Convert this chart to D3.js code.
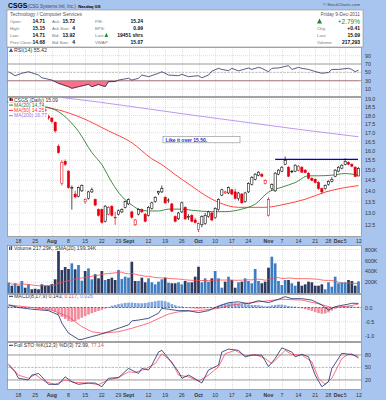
<!DOCTYPE html>
<html><head><meta charset="utf-8">
<script src="https://cdn.jsdelivr.net/npm/d3@7/dist/d3.min.js"></script>
<style>
html,body{margin:0;padding:0;background:#a7c5ee;}
svg{display:block}
text{font-family:"Liberation Sans",Arial,sans-serif;}
</style></head><body>
<svg id="chart" width="386" height="400"></svg>
<script>
// ---------------- DATA ----------------
const tradingStart = "2011-07-13", tradingEnd = "2011-12-09";
const holidays = ["2011-09-05", "2011-11-24"];

const opens = [18.80,18.85,18.65,18.75,18.60,18.85,18.80,18.95,18.75,18.60,18.50,18.35,17.95,17.85,17.60,16.25,14.35,15.45,14.95,14.10,13.85,13.75,14.00,13.50,13.65,13.95,13.60,13.15,13.15,12.65,12.95,13.30,12.80,12.95,13.05,13.25,13.40,13.05,12.50,12.95,13.15,12.95,12.90,13.20,13.50,13.90,13.95,13.70,13.55,13.40,12.85,12.75,13.05,13.25,12.80,12.90,12.70,12.30,12.50,12.55,12.85,13.00,12.80,13.15,13.80,13.90,13.90,14.05,13.95,13.65,13.85,13.50,13.95,14.30,14.55,14.75,14.80,14.35,12.90,14.10,14.00,14.80,14.95,15.30,15.15,14.92,14.95,15.00,15.15,15.00,14.85,14.60,14.55,14.40,14.10,14.10,14.30,14.45,14.70,14.95,15.10,15.30,15.40,15.30,15.15,14.71];
const highs = [18.95,18.95,18.80,18.85,18.90,18.95,19.00,19.00,18.85,18.70,18.60,18.50,18.05,17.90,17.65,16.35,15.50,15.55,15.00,14.25,14.00,14.20,14.30,13.65,14.00,14.15,13.65,13.20,13.20,13.35,13.30,13.35,13.05,13.15,13.20,13.55,13.65,13.10,12.75,13.20,13.20,13.00,13.30,13.50,13.75,14.00,14.25,13.75,13.65,13.45,12.90,13.05,13.50,13.30,12.95,12.95,12.80,12.60,12.90,13.00,13.10,13.05,13.25,13.65,14.10,14.00,14.20,14.10,14.10,13.95,13.90,13.95,14.40,14.70,14.85,14.95,14.85,14.55,13.70,14.35,14.90,15.05,15.20,15.70,15.20,15.00,15.30,15.25,15.20,15.05,14.90,14.65,14.60,14.45,14.15,14.30,14.50,14.65,15.05,15.20,15.30,15.60,15.45,15.35,15.20,15.15];
const lows = [18.70,18.60,18.55,18.55,18.55,18.70,18.70,18.75,18.55,18.45,18.30,18.20,17.75,17.55,17.00,15.85,14.25,15.20,14.10,13.15,13.65,13.70,13.95,13.40,13.60,13.90,13.30,12.85,12.55,12.60,12.90,12.85,12.50,12.90,13.00,13.20,13.35,12.75,12.45,12.90,13.00,12.60,12.85,13.15,13.45,13.80,13.90,13.40,13.45,13.05,12.60,12.70,13.00,12.70,12.70,12.60,12.55,12.20,12.40,12.50,12.80,12.65,12.75,13.10,13.75,13.85,13.85,13.80,13.60,13.55,13.40,13.45,13.90,14.25,14.50,14.70,14.65,14.30,12.85,14.00,13.95,14.75,14.90,15.25,14.65,14.85,14.90,14.95,14.85,14.85,14.55,14.45,14.35,14.05,13.85,14.05,14.25,14.40,14.65,14.90,15.05,15.25,15.25,15.15,14.65,14.71];
const closes = [18.85,18.65,18.75,18.60,18.85,18.80,18.95,18.80,18.60,18.50,18.35,18.30,17.85,17.65,17.10,15.90,15.40,15.30,14.15,14.15,13.72,14.15,14.25,13.60,13.95,14.05,13.35,12.90,12.60,13.30,13.25,12.90,12.82,13.10,13.15,13.50,13.60,12.82,12.70,13.15,13.05,12.65,13.25,13.45,13.70,13.97,14.10,13.45,13.58,13.08,12.65,13.00,13.45,12.75,12.85,12.65,12.60,12.55,12.85,12.90,13.05,12.70,13.20,13.60,14.05,13.95,14.15,13.85,13.65,13.90,13.45,13.90,14.35,14.65,14.80,14.90,14.70,14.50,13.60,14.30,14.85,15.00,15.15,15.50,14.70,14.95,15.25,15.20,14.90,14.88,14.60,14.50,14.40,14.10,13.95,14.25,14.45,14.55,15.00,15.15,15.25,15.45,15.30,15.20,14.68,15.09];
const volumesK = [193,138,182,138,224,101,163,72,83,72,163,138,138,167,255,774,425,480,444,548,438,517,230,407,456,255,347,273,407,242,261,285,242,425,261,303,285,578,224,224,285,200,273,200,163,212,255,285,193,182,182,200,163,224,200,200,303,486,200,273,212,273,407,273,101,212,303,242,101,200,212,273,224,182,444,224,182,212,468,670,548,224,150,242,242,182,138,212,138,163,212,200,138,138,163,72,200,120,303,182,200,200,242,224,138,217];

// moving averages (session number, value)
const ma20Day = [10,15,21,25,28,31,34,36,39,42,45,48,52,55,61,65,70,74,78,82,86,90,93,97,101,105];
const ma20Val = [18.58,18.23,17.07,15.91,15.28,14.40,13.74,13.47,13.17,13.09,13.09,13.17,13.17,13.12,13.06,13.06,13.17,13.39,13.94,14.17,14.39,14.72,14.72,14.75,14.83,14.74];
const ma50Day = [10,15,22,30,37,43,46,50,55,59,63,69,77,83,89,95,105];
const ma50Val = [18.54,18.34,17.86,17.10,16.44,15.58,15.28,14.78,14.22,13.79,13.47,13.25,13.25,13.39,13.61,13.94,14.25];
const ma200Day = [16,27,42,55,72,87,105];
const ma200Val = [19.12,18.83,18.40,18.03,17.58,17.19,16.77];

const rsiDay = [0,2,4,6,9,10,13,15,18,19,21,24,25,27,29,30,32,33,36,37,39,40,42,45,46,48,51,52,54,57,58,60,61,63,64,66,67,69,72,73,75,76,78,79,81,84,85,87,88,90,92,94,96,97,99,102,103,104,105];
const rsiVal = [51.5,42,47.7,51.5,43.6,37,31.6,23.7,15.6,11.7,15.6,21.3,15.6,21,15.6,27.6,28,31.6,35.7,31.6,35.7,43.6,39.6,47.7,51.5,43.6,42,45.3,39.6,42,37,43.6,53,59.6,57,54,59.6,53.5,60.5,57,62,59.6,51.5,59.6,60.5,66,57,62,59.6,57,52,47.7,49.6,57,57,59.6,57,51.5,55.42];

const macdDay = [0,3,7,12,15,16,18,21,22,25,27,30,33,36,37,39,42,45,46,48,51,54,57,60,63,66,69,72,75,78,81,83,85,88,91,94,96,98,102,103,105];
const macdVal = [0.09,0.0,-0.06,-0.11,-0.26,-0.55,-0.9,-1.12,-1.12,-1.02,-0.96,-0.85,-0.73,-0.61,-0.47,-0.44,-0.38,-0.2,-0.03,-0.06,-0.11,-0.11,-0.18,-0.11,0.05,0.17,0.2,0.13,0.24,0.17,0.29,0.38,0.31,0.31,0.26,0.09,-0.09,0.03,0.12,0.15,0.143];
const signalDay = [0,7,13,18,22,25,28,33,37,42,48,51,57,63,67,75,82,88,93,97,102,105];
const signalVal = [0.09,0.0,-0.09,-0.33,-0.67,-0.85,-0.9,-0.85,-0.73,-0.55,-0.23,-0.15,-0.11,-0.03,0.09,0.2,0.29,0.26,0.13,0.0,0.05,0.117];
const macdHist = [0.04,0.03,0.02,0.01,0.0,-0.01,-0.01,-0.02,-0.02,-0.03,-0.04,-0.05,-0.07,
  -0.10,-0.15,-0.25,-0.33,-0.40,-0.47,-0.50,-0.48,-0.42,-0.36,-0.30,-0.25,-0.20,-0.16,-0.12,-0.08,-0.04,
  0.02,0.06,0.09,0.12,0.14,0.16,0.17,0.17,0.16,0.15,0.15,0.16,0.18,0.20,0.22,0.24,0.24,0.22,0.18,0.12,0.08,0.04,
  0.04,0.01,-0.02,-0.03,-0.04,-0.05,-0.04,-0.03,-0.02,-0.01,0.02,0.06,0.10,0.13,0.15,0.16,0.15,0.14,0.12,0.12,
  0.10,0.09,0.09,0.08,0.06,0.04,0.05,0.07,0.09,0.10,0.10,0.08,0.05,0.04,0.03,
  0.0,-0.03,-0.06,-0.09,-0.12,-0.16,-0.20,-0.22,-0.21,-0.17,-0.11,-0.05,
  0.0,0.03,0.05,0.05,0.04,0.02,0.026];

const stoKDay = [0,2,3,6,7,9,10,12,15,17,19,21,24,26,28,30,33,36,37,39,40,42,43,45,46,48,51,52,54,55,58,60,63,64,66,69,71,73,76,78,80,82,85,86,88,90,92,94,96,97,100,102,103,105];
const stoKVal = [55.5,39.6,24,20,31.6,35.6,27.5,9.5,9.5,27.5,15.7,9.5,12.6,12.6,3.8,24,25.7,47.6,43.8,35.6,47.6,43.8,55.5,87,91,71.6,39.6,24,31.6,27.5,12.6,43.8,55.5,87,94,91,75.6,79.5,79.5,52,71.6,97,87,75.6,81.6,75.6,31.6,3.8,15.7,47.6,84,81.6,82,72.99];
const stoDDay = [0,3,6,8,11,14,17,20,24,27,30,33,36,38,41,44,46,49,51,54,57,60,63,65,68,71,74,77,79,83,85,88,91,93,95,97,100,102,105];
const stoDVal = [59,31.6,24,33,15.7,9.5,20,14,12.6,8.8,20,25.7,39.6,38,46,59,83,63.6,31.6,27.5,17.3,31.6,51.5,83,91,78,81,71.6,59,91,81,79.5,63.6,24,9.5,24,71.6,82,77.14];

const tickDates = ["2011-07-18","2011-07-25","2011-08-01","2011-08-08","2011-08-15","2011-08-22","2011-08-29","2011-09-01","2011-09-12","2011-09-19","2011-09-26","2011-10-03","2011-10-10","2011-10-17","2011-10-24","2011-11-01","2011-11-07","2011-11-14","2011-11-21","2011-11-28","2011-12-01","2011-12-05","2011-12-12"];
const tickLabels = ["18","25","Aug","8","15","22","29","Sept","12","19","26","Oct","10","17","24","Nov","7","14","21","28","Dec","5","12"];
const priceTicks = [12.5,13.0,13.5,14.0,14.5,15.0,15.5,16.0,16.5,17.0,17.5,18.0,18.5,19.0];
const rsiTicks = [10,30,50,70,90];
const volTicks = [200,400,600,800];
const macdTicks = [-1.0,-0.5,0.0];
const stoTicks = [20,50,80];
const resistanceLevel = 15.55, resistanceFrom = "2011-11-03";

// ---------------- SETUP ----------------
const fmt = d3.timeFormat("%Y-%m-%d"), parse = d3.timeParse("%Y-%m-%d");
const dates = d3.timeDay.range(parse(tradingStart), d3.timeDay.offset(parse(tradingEnd), 1))
  .filter(d => d.getDay() % 6 !== 0 && !holidays.includes(fmt(d))).map(fmt);
const n = dates.length;

const svg = d3.select("#chart");
const BLUE = "#a7c5ee", GRID = "#c9c9c9", BORDER = "#8c8c8c";
const X0 = 7, X1 = 362;
const x = d3.scaleLinear().domain([0, n - 1]).range([8.5, 358.5]);
const P = {
  rsi: {y0: 47, y1: 97}, main: {y0: 97, y1: 237}, vol: {y0: 245, y1: 294},
  macd: {y0: 294, y1: 342}, sto: {y0: 342, y1: 390}
};
const yRsi = d3.scaleLinear().domain([30, 70]).range([80.7, 64]);
const yP = d3.scaleLog().domain([12.0, 19.15]).range([237, 97]);
const yVol = d3.scaleLinear().domain([0, 800]).range([293.2, 249.6]);
const yMacd = d3.scaleLinear().domain([-1, 0]).range([336, 307.5]);
const ySto = d3.scaleLinear().domain([0, 100]).range([388.3, 346.6]);

svg.append("rect").attr("width", 386).attr("height", 400).attr("fill", BLUE);
const defs = svg.append("defs");
Object.entries(P).forEach(([k, p]) => {
  defs.append("clipPath").attr("id", "clip-" + k).append("rect")
    .attr("x", X0).attr("y", p.y0).attr("width", X1 - X0).attr("height", p.y1 - p.y0);
});

const tickIdx = tickDates.map(d => { const i = dates.indexOf(d); return i >= 0 ? i : n; });

function panel(key, yScale, ticks, fmtTick, refLines) {
  const p = P[key];
  const g = svg.append("g");
  g.append("rect").attr("x", X0).attr("y", p.y0).attr("width", X1 - X0).attr("height", p.y1 - p.y0)
    .attr("fill", "#fff");
  const cg = g.append("g").attr("clip-path", "url(#clip-" + key + ")");
  tickIdx.forEach(i => {
    const xx = Math.round(x(i)) + 0.5;
    if (xx > X0 && xx < X1) cg.append("line").attr("x1", xx).attr("x2", xx).attr("y1", p.y0).attr("y2", p.y1)
      .attr("stroke", GRID).attr("stroke-width", 0.6).attr("stroke-dasharray", "1,1");
  });
  ticks.forEach(t => {
    const yy = yScale(t);
    if (yy > p.y0 && yy < p.y1) cg.append("line").attr("x1", X0).attr("x2", X1).attr("y1", yy).attr("y2", yy)
      .attr("stroke", GRID).attr("stroke-width", 0.6).attr("stroke-dasharray", "1,1");
    g.append("text").attr("x", 365).attr("y", yy + 2).attr("font-size", 5.3).attr("fill", "#333").text(fmtTick(t));
  });
  (refLines || []).forEach(r => {
    cg.append("line").attr("x1", X0).attr("x2", X1).attr("y1", yScale(r.v)).attr("y2", yScale(r.v))
      .attr("stroke", r.c || "#8a8a8a").attr("stroke-width", r.w || 0.8).attr("stroke-dasharray", r.dash || null);
  });
  return {g, cg};
}
function frame(key) {
  const p = P[key];
  svg.append("rect").attr("x", X0 + 0.5).attr("y", p.y0 + 0.5).attr("width", X1 - X0 - 1).attr("height", p.y1 - p.y0 - 1)
    .attr("fill", "none").attr("stroke", BORDER).attr("stroke-width", 0.8);
}
function sparseLine(g, days, vals, yScale, color, w, curve) {
  g.append("path").datum(days.map((d, i) => [x(d), yScale(vals[i])]))
    .attr("d", d3.line().curve(curve || d3.curveLinear)).attr("fill", "none")
    .attr("stroke", color).attr("stroke-width", w || 0.8);
}
function label(g, xx, yy, parts, size) {
  const t = g.append("text").attr("x", xx).attr("y", yy).attr("font-size", size || 5.3);
  parts.forEach(p => t.append("tspan").attr("fill", p.c || "#333").attr("font-weight", p.b ? "bold" : null).text(p.t));
  return t;
}
function dateAxis(yy) {
  tickIdx.forEach((i, k) => {
    let xx = Math.min(x(i), 359);
    const month = isNaN(+tickLabels[k]);
    svg.append("text").attr("x", xx).attr("y", yy).attr("text-anchor", "middle").attr("font-size", 5.2)
      .attr("font-weight", month ? "bold" : null).attr("fill", "#333").text(tickLabels[k]);
  });
}

// ---------------- HEADER ----------------
svg.append("rect").attr("x", X0).attr("y", 10).attr("width", X1 - X0 + 1).attr("height", 37).attr("fill", "#fff")
  .attr("stroke", BORDER).attr("stroke-width", 0.6);
label(svg, 8, 8, [{t: "CSGS", c: "#000", b: true}], 6.8);
const sub = label(svg, 27.5, 7.8, [{t: "(CSG Systems Intl, Inc.)", c: "#445"}], 4.5);
const subEnd = 27.5 + sub.node().getComputedTextLength();
label(svg, subEnd + 2.5, 7.8, [{t: "Nasdaq GS", c: "#000", b: true}], 4.2);
svg.append("text").attr("x", 360).attr("y", 6).attr("text-anchor", "end").attr("font-size", 4.3).attr("fill", "#445").text("© StockCharts.com");
label(svg, 10, 16, [{t: "Technology / Computer Services", c: "#555"}], 5);
const hdrRows = [
  [["Open:", "14.71"], ["Ask:", "15.72"], ["P/E:", "15.24"]],
  [["High:", "15.15"], ["Ask Size:", "4"], ["EPS:", "0.99"]],
  [["Low:", "14.71"], ["Bid:", "13.92"], ["Last:", "19451 shrs"]],
  [["Prev Close:", "14.68"], ["Bid Size:", "4"], ["VWAP:", "15.07"]]
];
const colL = [10, 52, 95], colR = [45, 75, 143];
hdrRows.forEach((row, r) => {
  const yy = 23 + r * 7;
  row.forEach((c, j) => {
    svg.append("text").attr("x", colL[j]).attr("y", yy).attr("font-size", 4.3).attr("fill", "#777").text(c[0]);
    svg.append("text").attr("x", colR[j]).attr("y", yy).attr("text-anchor", "end").attr("font-size", 5)
      .attr("font-weight", "bold").attr("fill", "#111").text(c[1]);
  });
});
svg.append("path").attr("d", "M104.5,37 l1.8,-4.2 l1.8,4.2 z").attr("fill", "#1a8a2a");
svg.append("text").attr("x", 360).attr("y", 16).attr("text-anchor", "end").attr("font-size", 4.8).attr("fill", "#555").text("Friday 9-Dec-2011");
svg.append("path").attr("d", "M317,23.5 l2.5,-5 l2.5,5 z").attr("fill", "#1a8a2a");
svg.append("text").attr("x", 360).attr("y", 23.5).attr("text-anchor", "end").attr("font-size", 6.5).attr("fill", "#1a8a2a").text("+2.79%");
[["Chg:", "+0.41"], ["Last:", "15.09"], ["Volume:", "217,293"]].forEach((c, r) => {
  const yy = 30 + r * 7;
  svg.append("text").attr("x", 317).attr("y", yy).attr("font-size", 4.3).attr("fill", "#777").text(c[0]);
  svg.append("text").attr("x", 360).attr("y", yy).attr("text-anchor", "end").attr("font-size", 5)
    .attr("font-weight", "bold").attr("fill", "#111").text(c[1]);
});

// ---------------- RSI ----------------
{
  const {g, cg} = panel("rsi", yRsi, rsiTicks, d => d, [{v: 70}, {v: 30}, {v: 50, dash: "2,1.5", c: "#b0b0b0"}]);
  const pts = rsiDay.map((d, i) => [x(d), yRsi(rsiVal[i])]);
  defs.append("clipPath").attr("id", "clip-rsi-low").append("rect")
    .attr("x", X0).attr("y", yRsi(30)).attr("width", X1 - X0).attr("height", P.rsi.y1 - yRsi(30));
  cg.append("path").datum(pts).attr("clip-path", "url(#clip-rsi-low)")
    .attr("d", d3.area().x(d => d[0]).y0(yRsi(30)).y1(d => d[1])).attr("fill", "#ff6f85").attr("stroke", "#c8102e").attr("stroke-width", 0.5);
  sparseLine(cg, rsiDay, rsiVal, yRsi, "#2a3566", 0.8);
  g.append("path").attr("d", "M9,52 l2,-4 l2,4 z").attr("fill", "#2a58b0");
  label(g, 14, 52, [{t: "RSI(14) 55.42"}], 5.3);
  frame("rsi");
}

// ---------------- MAIN PRICE ----------------
{
  const {g, cg} = panel("main", yP, priceTicks, d => d.toFixed(1), []);
  sparseLine(cg, ma200Day, ma200Val, yP, "#b38cf0", 0.9, d3.curveMonotoneX);
  sparseLine(cg, ma50Day, ma50Val, yP, "#ff3030", 0.9, d3.curveMonotoneX);
  sparseLine(cg, ma20Day, ma20Val, yP, "#2f7d2f", 0.9, d3.curveMonotoneX);
  const ri = dates.indexOf(resistanceFrom);
  cg.append("line").attr("x1", x(ri)).attr("x2", 358).attr("y1", yP(resistanceLevel)).attr("y2", yP(resistanceLevel))
    .attr("stroke", "#0000d8").attr("stroke-width", 1.3);
  dates.forEach((d, i) => {
    const up = i === 0 ? true : closes[i] >= closes[i - 1];
    const col = up ? "#000" : "#e30010";
    const hollow = closes[i] > opens[i];
    const xx = x(i);
    cg.append("line").attr("x1", xx).attr("x2", xx).attr("y1", yP(highs[i])).attr("y2", yP(lows[i]))
      .attr("stroke", col).attr("stroke-width", 0.7);
    const yt = yP(Math.max(opens[i], closes[i])), yb = yP(Math.min(opens[i], closes[i]));
    cg.append("rect").attr("x", xx - 1.1).attr("width", 2.2).attr("y", yt).attr("height", Math.max(0.7, yb - yt))
      .attr("fill", hollow ? "#fff" : col).attr("stroke", col).attr("stroke-width", 0.55);
  });
  g.append("rect").attr("x", 163).attr("y", 136.3).attr("width", 77).attr("height", 6.5).attr("fill", "#fff")
    .attr("stroke", "#888").attr("stroke-width", 0.6);
  g.append("text").attr("x", 165.5).attr("y", 141.5).attr("font-size", 5).attr("font-weight", "bold")
    .attr("fill", "#1030d0").text("Like it over 15.50.");
  const leg = [
    {t: "CSGS (Daily) 15.09", c: "#333", icon: "candle"},
    {t: "MA(20) 14.74", c: "#2f7d2f"},
    {t: "MA(50) 14.25", c: "#ff3030"},
    {t: "MA(200) 16.77", c: "#9a6ee8"}
  ];
  leg.forEach((l, k) => {
    const yy = 101.5 + k * 5.3;
    const t = g.append("text").attr("x", 14).attr("y", yy).attr("font-size", 5).attr("fill", l.c).text(l.t);
    const w = t.node().getComputedTextLength();
    g.insert("rect", "text").attr("x", 8).attr("y", yy - 4.3).attr("width", w + 7).attr("height", 5.3).attr("fill", "#fff");
    if (l.icon) {
      g.append("rect").attr("x", 9.5).attr("y", yy - 3.6).attr("width", 2).attr("height", 3).attr("fill", "#222");
      g.append("rect").attr("x", 11.5).attr("y", yy - 3).attr("width", 1.5).attr("height", 2.4).attr("fill", "#e30010");
    } else {
      g.append("line").attr("x1", 9).attr("x2", 13).attr("y1", yy - 1.7).attr("y2", yy - 1.7).attr("stroke", l.c).attr("stroke-width", 1);
    }
  });
  frame("main");
}
dateAxis(243.3);

// ---------------- VOLUME ----------------
{
  const {g, cg} = panel("vol", yVol, volTicks, d => d + "K", []);
  dates.forEach((d, i) => {
    const up = i === 0 ? true : closes[i] >= closes[i - 1];
    cg.append("rect").attr("x", x(i) - 1.35).attr("width", 2.7).attr("y", yVol(volumesK[i]))
      .attr("height", yVol(0) - yVol(volumesK[i])).attr("fill", up ? "#3f7dc2" : "#2b3a5e");
  });
  const sma = volumesK.map((v, i) => d3.mean(volumesK.slice(Math.max(0, i - 19), i + 1)));
  cg.append("path").datum(sma.map((v, i) => [x(i), yVol(v)])).attr("d", d3.line())
    .attr("fill", "none").attr("stroke", "#ff4a4a").attr("stroke-width", 0.8);
  label(g, 14, 249.8, [{t: "Volume 217.29K, SMA(20) 199.34K"}], 5.2);
  g.append("rect").attr("x", 9).attr("y", 246.5).attr("width", 1.4).attr("height", 3.5).attr("fill", "#2a58b0");
  g.append("rect").attr("x", 10.8).attr("y", 245.8).attr("width", 1.4).attr("height", 4.2).attr("fill", "#2a58b0");
  frame("vol");
}

// ---------------- MACD ----------------
{
  const {g, cg} = panel("macd", yMacd, macdTicks, d => d.toFixed(1), []);
  dates.forEach((d, i) => {
    const v = macdHist[i], y0 = yMacd(0), y1 = yMacd(v);
    cg.append("rect").attr("x", x(i) - 1.3).attr("width", 2.6).attr("y", Math.min(y0, y1))
      .attr("height", Math.max(0.3, Math.abs(y1 - y0))).attr("fill", v >= 0 ? "#7fa6dc" : "#f08a9c");
  });
  cg.append("line").attr("x1", X0).attr("x2", X1).attr("y1", yMacd(0)).attr("y2", yMacd(0))
    .attr("stroke", "#1f3f9a").attr("stroke-width", 0.7).attr("stroke-dasharray", "2,1.5");
  sparseLine(cg, signalDay, signalVal, yMacd, "#ff4a5a", 0.8);
  sparseLine(cg, macdDay, macdVal, yMacd, "#1c2a6a", 0.8);
  g.append("line").attr("x1", 9).attr("x2", 13).attr("y1", 296.3).attr("y2", 296.3).attr("stroke", "#1c2a6a").attr("stroke-width", 1);
  label(g, 14, 298, [{t: "MACD(8,17,9) 0.143, "}, {t: "0.117", c: "#ff4a5a"}, {t: ", "}, {t: "0.026", c: "#5d8ed6"}], 5.2);
  frame("macd");
}

// ---------------- STO ----------------
{
  const {g, cg} = panel("sto", ySto, stoTicks, d => d, [{v: 80}, {v: 20}, {v: 50, dash: "2,1.5", c: "#b0b0b0"}]);
  sparseLine(cg, stoDDay, stoDVal, ySto, "#ff4a5a", 0.8);
  sparseLine(cg, stoKDay, stoKVal, ySto, "#1c2a6a", 0.8);
  g.append("line").attr("x1", 9).attr("x2", 13).attr("y1", 345.3).attr("y2", 345.3).attr("stroke", "#1c2a6a").attr("stroke-width", 1);
  label(g, 14, 347, [{t: "Full STO %K(12,3) %D(3) 72.99, "}, {t: "77.14", c: "#ff4a5a"}], 5.2);
  frame("sto");
}
dateAxis(396.5);
</script>
</body></html>
